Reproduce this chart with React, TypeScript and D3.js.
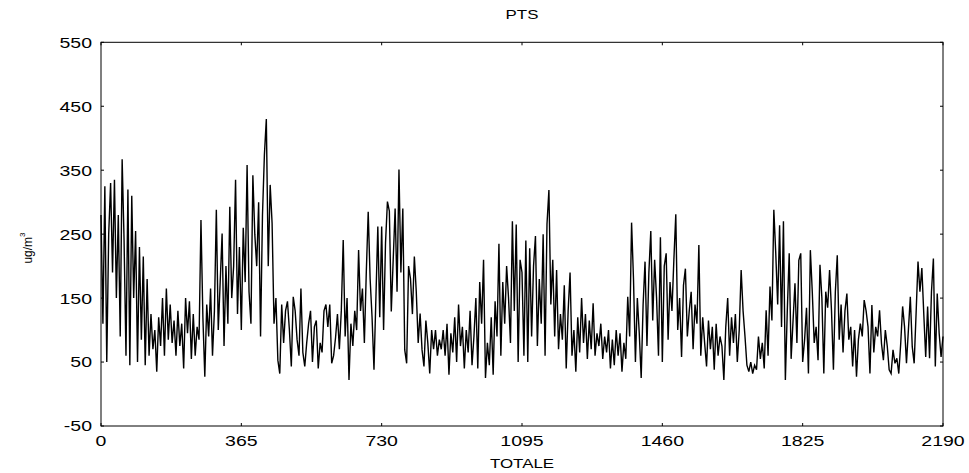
import React from "react";
import * as d3 from "d3";

const title = "PTS";
const xLabel = "TOTALE";
const yLabelMain = "ug/m";
const yLabelSup = "3";
const xTicks = [0, 365, 730, 1095, 1460, 1825, 2190];
const yTicks = [-50, 50, 150, 250, 350, 450, 550];
const dayStep = 5;

const year1 = [280,110,325,50,250,330,190,335,150,280,90,367,240,60,320,45,310,150,255,50,230,
  85,215,45,180,60,125,70,100,35,120,75,150,60,165,85,140,80,115,60,130,75,110,40,150,95,145,55,125,60,105,85,
  272,120,27,140,90,165,60,130,288,100,175,251,75,200,110,293,150,200,335,125,230];
const year2 = [100,260,175,358,160,110,342,250,200,300,90,280,374,430,200,327,
  267,110,150,53,32,140,80,130,145,100,43,152,130,85,60,165,65,43,80,110,130,50,105,115,40,80,65,130,140,105,140,48,60,88,125,
  70,130,241,90,150,22,110,75,130,100,225,130,165,80,190,285,180,120,38,150,262,120];
const year3 = [262,100,236,301,286,129,210,290,160,351,190,290,69,48,200,180,125,215,160,80,126,69,43,115,80,32,100,70,100,60,85,
  70,100,60,110,30,95,65,120,50,140,75,105,40,100,65,130,45,90,150,40,175,110,210,25,80,45,120,30,145,90,235,60,175,110,200,150,80,270,130,265,50,210];
const year4 = [190,60,240,50,228,90,200,247,75,180,110,250,60,266,319,140,210,90,194,70,125,85,170,40,130,190,60,100,35,120,65,150,80,125,55,115,70,142,60,95,75,110,55,90,65,100,
  40,85,45,100,60,95,35,80,55,152,90,268,180,50,150,95,25,140,207,75,190,255,115,210,150,60,245];
const year5 = [50,200,220,85,175,130,210,281,100,150,58,170,196,90,130,160,70,140,110,233,60,120,80,43,115,70,105,38,110,60,90,75,22,105,150,60,120,80,125,50,100,194,130,90,45,35,50,32,45,38,90,55,80,40,131,60,168,115,288,220,140,264,
  105,270,22,130,220,55,115,173,80,209,220];
const year6 = [50,85,135,32,225,160,80,105,53,202,150,32,160,135,194,130,38,160,217,85,140,65,130,157,85,105,43,100,27,85,110,90,147,130,105,32,139,65,105,90,131,79,53,100,75,38,32,69,48,56,32,79,137,105,48,100,152,74,48,126,207,160,197,125,58,137,56,160,212,43,157,95,58,90];

const values = [...year1, ...year2, ...year3, ...year4, ...year5, ...year6];
const series = values.map((v, i) => ({ day: i * dayStep, v }));

const FONT = "'Liberation Sans', Arial, Helvetica, sans-serif";
const SX = 1.3;

export default function App() {
  const W = 969, H = 473;
  const L = 101, R = 943, T = 42.3, B = 426;
  const x = d3.scaleLinear().domain([0, 2190]).range([L, R]);
  const y = d3.scaleLinear().domain([-50, 550]).range([B, T]);
  const line = d3.line<{ day: number; v: number }>().x((d) => x(d.day)).y((d) => y(d.v));
  const tl = 3;
  return (
    <svg width={W} height={H} style={{ position: "absolute", left: 0, top: 0, background: "#fff" }} fontFamily={FONT}>
      <rect x={0} y={0} width={W} height={H} fill="#fff" />
      <path d={line(series) || ""} fill="none" stroke="#000" strokeWidth={1.4} strokeLinejoin="miter" />
      <rect x={L} y={T} width={R - L} height={B - T} fill="none" stroke="#000" strokeWidth={1} />
      {xTicks.map((t) => (
        <g key={"x" + t}>
          <line x1={x(t)} x2={x(t)} y1={B} y2={B - tl} stroke="#000" />
          <line x1={x(t)} x2={x(t)} y1={T} y2={T + tl} stroke="#000" />
          <text transform={`translate(${x(t)},446) scale(${SX},1)`} textAnchor="middle" fontSize={15} fill="#000">{t}</text>
        </g>
      ))}
      {yTicks.map((t) => (
        <g key={"y" + t}>
          <line x1={L} x2={L + tl} y1={y(t)} y2={y(t)} stroke="#000" />
          <line x1={R} x2={R - tl} y1={y(t)} y2={y(t)} stroke="#000" />
          <text transform={`translate(92,${y(t)}) scale(${SX},1)`} textAnchor="end" dy="0.36em" fontSize={15} fill="#000">{t}</text>
        </g>
      ))}
      <text transform={`translate(522,19) scale(${SX},1)`} textAnchor="middle" fontSize={13} fill="#000">{title}</text>
      <text transform={`translate(522,468) scale(${SX},1)`} textAnchor="middle" fontSize={13} fill="#000">{xLabel}</text>
      <text transform="translate(32,248) rotate(-90)" textAnchor="middle" fontSize={12} fill="#000">
        {yLabelMain}
        <tspan fontSize={8} dy={-7}>{yLabelSup}</tspan>
      </text>
    </svg>
  );
}
